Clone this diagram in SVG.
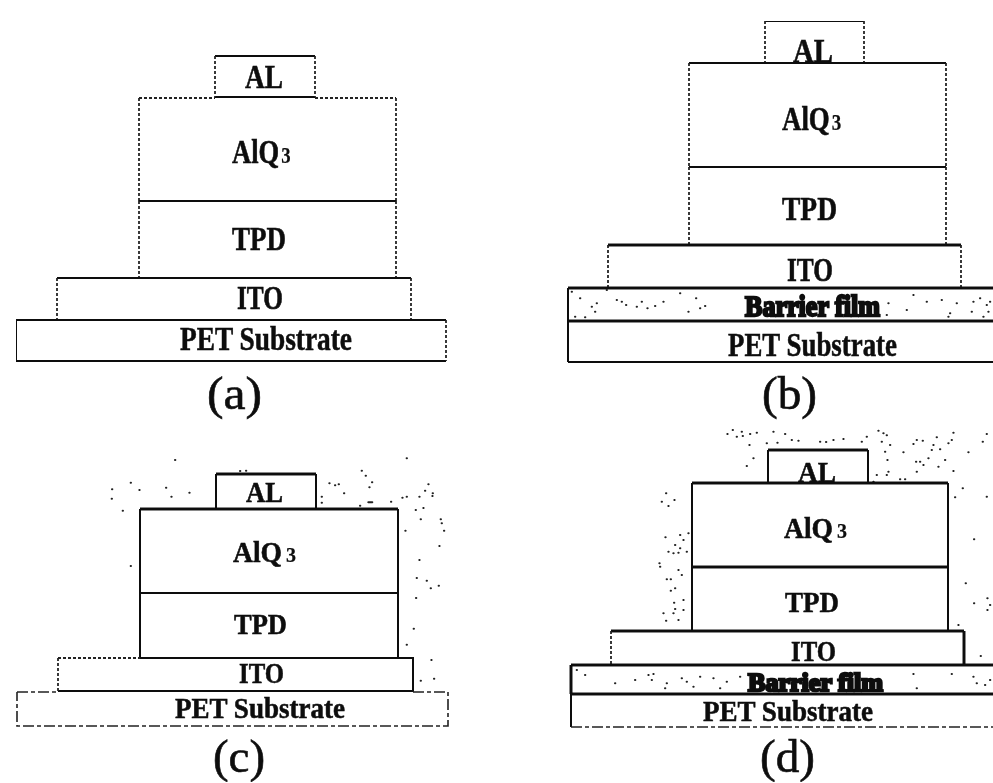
<svg xmlns="http://www.w3.org/2000/svg" width="993" height="783" viewBox="0 0 993 783">
<style>
.s{fill:none;stroke:#111;stroke-width:2}
.h{fill:none;stroke:#111;stroke-width:3}
.d{fill:none;stroke:#222;stroke-width:1.8;stroke-dasharray:3 2}
.g{fill:none;stroke:#222;stroke-width:1.6;stroke-dasharray:11 3 4 3}
.dots{fill:none;stroke:#222;stroke-width:6;stroke-linecap:round}
text{font-family:"Liberation Serif","Times New Roman",serif;fill:#0a0a0a;stroke:#0a0a0a;stroke-width:.5;text-anchor:start;font-weight:bold}
.c{font-size:47px;font-weight:normal;stroke-width:.6}
.l{font-size:34px}
.p{font-size:34px}
.m{font-size:29px}
.b{font-size:30px;stroke-width:2.4}
.bs{font-size:26px;stroke-width:2.6}
.sub{font-size:24px;stroke-width:.2}
.subm{font-size:20px;stroke-width:.2}
</style>
<defs><filter id="soft" x="0" y="0" width="100%" height="100%"><feGaussianBlur stdDeviation="0.5"/></filter></defs>
<rect width="993" height="783" fill="#fff"/>
<g filter="url(#soft)">
<g id="panel-a">
<g id="a-al"><path class="s" d="M215 56H315M215 97H315"/><path class="d" d="M215 56V97M315 56V97"/><text class="l" x="245" y="88" textLength="38" lengthAdjust="spacingAndGlyphs">AL</text></g>
<g id="a-alq3"><path class="d" d="M139 98H215M315 98H396M139 98V201M396 98V201"/><text class="l" transform="translate(232 163) scale(.78 1)">AlQ<tspan class="sub" x="63">3</tspan></text></g>
<g id="a-tpd"><path class="s" d="M139 201H396"/><path class="d" d="M139 201V278M396 201V278"/><text class="l" x="232" y="250" textLength="54" lengthAdjust="spacingAndGlyphs">TPD</text></g>
<g id="a-ito"><path class="s" d="M57 278H411"/><path class="d" d="M57 278V320M411 278V320"/><text class="l" x="237" y="309" textLength="46" lengthAdjust="spacingAndGlyphs">ITO</text></g>
<g id="a-pet"><path class="s" d="M16 320H446M16 361H446M16 320V361"/><path class="d" d="M446 320V361"/><text class="p" x="180" y="350" textLength="172" lengthAdjust="spacingAndGlyphs">PET Substrate</text></g>
<text id="a-caption" class="c" x="207" y="409" textLength="55" lengthAdjust="spacingAndGlyphs">(a)</text>
</g>
<g id="panel-b">
<g id="b-al"><path class="s" d="M765 21H864"/><path class="d" d="M765 21V62M864 21V62"/><text class="l" x="793" y="62" textLength="40" lengthAdjust="spacingAndGlyphs">AL</text></g>
<g id="b-alq3"><path class="s" d="M689 63H946"/><path class="d" d="M689 63V167M946 63V167"/><text class="l" transform="translate(782 130) scale(.79 1)">AlQ<tspan class="sub" x="63">3</tspan></text></g>
<g id="b-tpd"><path class="s" d="M689 167H946"/><path class="d" d="M689 167V245M946 167V245"/><text class="l" x="782" y="220" textLength="55" lengthAdjust="spacingAndGlyphs">TPD</text></g>
<g id="b-ito"><path class="h" d="M608 245H961"/><path class="d" d="M608 245V287M961 245V287"/><text class="l" x="787" y="281" textLength="46" lengthAdjust="spacingAndGlyphs">ITO</text></g>
<g id="b-barrier"><path class="h" d="M568 288H993M568 321H993"/><path class="s" d="M568 288V321"/>
<path class="dots" transform="translate(540 0) scale(.3333)" d="M95 875h1M120 895h1M155 920h1M170 910h1M165 935h1M230 900h1M245 905h1M258 915h1M290 920h1M305 905h1M322 925h1M345 918h1M370 905h1M445 935h1M468 895h1M480 925h1M495 918h1M200 870h1M420 880h1M1045 910h1M1040 945h1M1100 930h1M1160 905h1M1205 900h1M1250 910h1M1230 940h1M1225 950h1M1300 905h1M1320 895h1M1340 915h1M1295 935h1M1350 905h1M1345 935h1M1120 885h1M105 950h1M135 952h1M1330 950h1"/>
<text class="b" x="745" y="316" textLength="135" lengthAdjust="spacingAndGlyphs">Barrier film</text></g>
<g id="b-pet"><path class="s" d="M568 321V362M568 362H993"/><text class="p" x="728" y="356" textLength="169" lengthAdjust="spacingAndGlyphs">PET Substrate</text></g>
<text id="b-caption" class="c" x="762" y="409" textLength="55" lengthAdjust="spacingAndGlyphs">(b)</text>
</g>
<g id="panel-c">
<path class="dots" id="c-speckle" transform="translate(0 440) scale(.3333)" d="M525 60h1M1220 55h1M720 93h1M738 92h1M1085 92h1M1097 107h1M1116 127h1M1108 142h1M392 128h1M336 148h1M418 150h1M498 143h1M568 158h1M514 170h1M335 176h1M368 212h1M988 130h1M1005 136h1M1016 133h1M1032 160h1M1285 133h1M1275 152h1M1298 160h1M1297 168h1M1258 170h1M1220 170h1M1207 173h1M1173 185h1M1105 187h12M1080 197h1M1247 210h1M1270 204h1M1262 238h1M1322 238h1M1325 250h1M1332 272h1M1216 272h1M1318 318h1M1258 360h1M392 378h1M1250 414h1M1280 422h1M1316 437h1M1292 445h1M1248 474h1M1241 566h1M1220 614h1M1294 660h1M1302 716h1M1262 722h1M965 170h1M965 188h1"/>
<g id="c-al"><path class="h" d="M216 474H316"/><path class="s" d="M216 474V509M316 474V509"/><text class="m" x="246" y="502" textLength="37" lengthAdjust="spacingAndGlyphs">AL</text></g>
<g id="c-alq3"><path class="h" d="M140 509H398"/><path class="s" d="M140 509V593M398 509V593"/><text class="m" x="233" y="562">
<tspan textLength="49" lengthAdjust="spacingAndGlyphs">AlQ</tspan><tspan class="subm" x="286">3</tspan></text></g>
<g id="c-tpd"><path class="s" d="M140 593H398M140 593V658M398 593V658"/><text class="m" x="234" y="634" textLength="53" lengthAdjust="spacingAndGlyphs">TPD</text></g>
<g id="c-ito"><path class="s" d="M58 691H413V658H140"/><path class="d" d="M58 658V691"/><path class="d" d="M58 658H140"/><text class="m" x="239" y="683" textLength="45" lengthAdjust="spacingAndGlyphs">ITO</text></g>
<g id="c-pet"><path class="g" d="M17 692H58M413 692H448V726H17V692"/><text class="m" x="175" y="718" textLength="170" lengthAdjust="spacingAndGlyphs">PET Substrate</text></g>
<text id="c-caption" class="c" x="213" y="772" textLength="52" lengthAdjust="spacingAndGlyphs">(c)</text>
</g>
<g id="panel-d">
<path class="dots" id="d-speckle" transform="translate(540 420) scale(.3333)" d="M562 42h1M578 30h1M590 50h1M605 35h1M608 48h1M630 42h1M650 38h1M628 75h1M680 70h1M700 35h1M735 42h1M712 68h1M755 60h1M775 62h1M840 65h1M858 66h1M880 60h1M910 57h1M965 65h1M980 50h1M1015 32h1M1030 40h1M1040 46h1M1025 65h1M1050 75h1M1035 95h1M1042 120h1M1090 97h1M1120 72h1M1130 60h1M1148 62h1M1180 75h1M1190 52h1M1175 90h1M1200 88h1M1165 115h1M1140 125h1M1128 125h1M1150 135h1M1215 120h1M1240 38h1M1235 60h1M1225 70h1M1285 97h1M1340 42h1M1328 65h1M1130 155h1M1195 140h1M1240 153h1M1045 155h1M1040 165h1M1010 165h1M1080 178h1M1095 178h1M1000 185h1M640 115h1M620 138h1M1268 205h1M1245 232h1M1340 230h1M1302 358h1M378 220h1M365 245h1M385 258h1M403 240h1M376 352h1M420 345h1M445 340h1M430 360h1M405 375h1M420 385h1M385 395h1M400 400h1M415 398h1M440 395h1M358 430h1M360 440h1M415 450h1M425 465h1M380 478h1M392 478h1M405 505h1M392 512h1M430 540h1M402 548h1M405 567h1M370 580h1M400 580h1M430 570h1M378 602h1M415 600h1M1277 490h1M1302 550h1M1342 535h1M1350 555h1M1342 570h1M1255 615h1M1322 708h1"/>
<g id="d-al"><path class="h" d="M768 450H868"/><path class="s" d="M768 450V483M868 450V483"/><text class="m" x="798" y="482" textLength="38" lengthAdjust="spacingAndGlyphs">AL</text></g>
<g id="d-alq3"><path class="h" d="M692 483H948"/><path class="s" d="M692 483V567M948 483V567"/><text class="m" x="784" y="538">
<tspan textLength="49" lengthAdjust="spacingAndGlyphs">AlQ</tspan><tspan class="subm" x="837">3</tspan></text></g>
<g id="d-tpd"><path class="h" d="M692 567H948"/><path class="s" d="M692 567V631M948 567V631"/><text class="m" x="785" y="612" textLength="54" lengthAdjust="spacingAndGlyphs">TPD</text></g>
<g id="d-ito"><path class="h" d="M611 631H964M964 631V665"/><path class="d" d="M611 631V665"/><text class="m" x="791" y="661" textLength="45" lengthAdjust="spacingAndGlyphs">ITO</text></g>
<g id="d-barrier"><path class="h" d="M571 665H993M571 694H993M571 665V694"/>
<path class="dots" transform="translate(540 420) scale(.3333)" d="M110 750h1M135 765h1M225 790h1M285 780h1M325 765h1M340 762h1M335 780h1M380 790h1M375 805h1M425 775h1M440 785h1M460 800h1M480 770h1M520 775h1M540 805h1M560 785h1M600 770h1M1120 762h1M1130 805h1M1235 762h1M1300 770h1M1310 790h1M1335 795h1M1350 780h1"/>
<text class="bs" x="748" y="691" textLength="135" lengthAdjust="spacingAndGlyphs">Barrier film</text></g>
<g id="d-pet"><path class="s" d="M571 694V727"/><path class="g" d="M571 727H993"/><text class="m" x="703" y="721" textLength="170" lengthAdjust="spacingAndGlyphs">PET Substrate</text></g>
<text id="d-caption" class="c" x="760" y="772" textLength="55" lengthAdjust="spacingAndGlyphs">(d)</text>
</g>
</g>
</svg>
